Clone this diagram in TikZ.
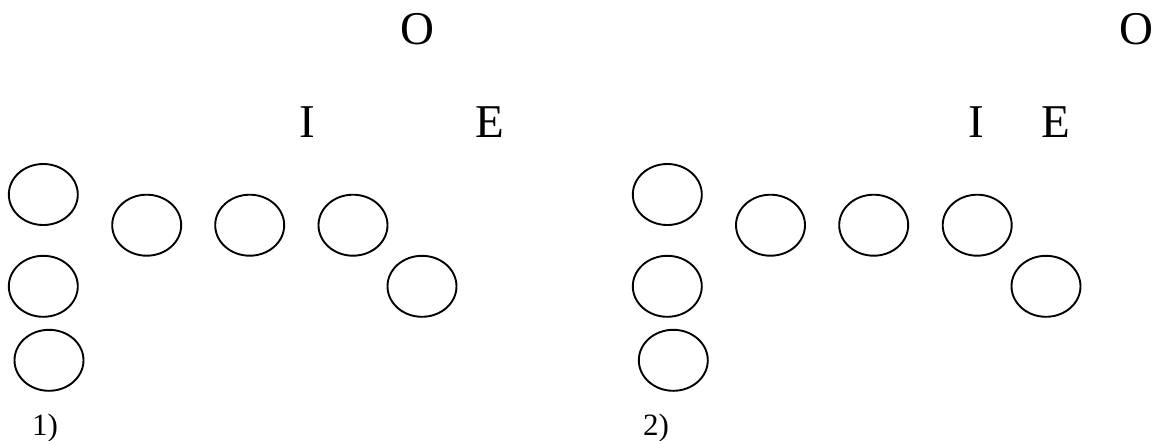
\documentclass[tikz,border=0pt]{standalone}
\usepackage{fontspec}
\setmainfont{Liberation Serif}
\usetikzlibrary{shapes.geometric}
\begin{document}
\begin{tikzpicture}[x=1pt,y=-1pt,
  blob/.style={draw=black,line width=1.9pt,ellipse,minimum width=69pt,minimum height=61pt,inner sep=0pt},
  bigletter/.style={inner sep=0pt,anchor=base,font=\fontsize{47}{50}\selectfont},
  paneltag/.style={inner sep=0pt,anchor=base west,font=\fontsize{31}{34}\selectfont}]
\useasboundingbox (0,0) rectangle (1152,440);
% panel 1
\node[blob] (a1) at (43.3,194.5) {};
\node[blob] (a2) at (43.3,286.3) {};
\node[blob] (a3) at (49,360.3) {};
\node[blob] (a4) at (146.7,225.2) {};
\node[blob] (a5) at (249.7,225.2) {};
\node[blob] (a6) at (353,225.2) {};
\node[blob] (a7) at (422,286.3) {};
\node[bigletter] (o1) at (417.5,44.5) {O};
\node[bigletter] (i1) at (307,137) {I};
\node[bigletter] (e1) at (489.5,137) {E};
\node[paneltag] (t1) at (32,435.5) {1)};
% panel 2
\node[blob] (b1) at (667.3,194.5) {};
\node[blob] (b2) at (667.3,286.3) {};
\node[blob] (b3) at (673.3,360.3) {};
\node[blob] (b4) at (770.5,225.2) {};
\node[blob] (b5) at (873.7,225.2) {};
\node[blob] (b6) at (977.2,225.2) {};
\node[blob] (b7) at (1046,286.3) {};
\node[bigletter] (o2) at (1136.5,44.5) {O};
\node[bigletter] (i2) at (976.5,137) {I};
\node[bigletter] (e2) at (1055.5,137) {E};
\node[paneltag] (t2) at (643,435.5) {2)};
\end{tikzpicture}
\end{document}
